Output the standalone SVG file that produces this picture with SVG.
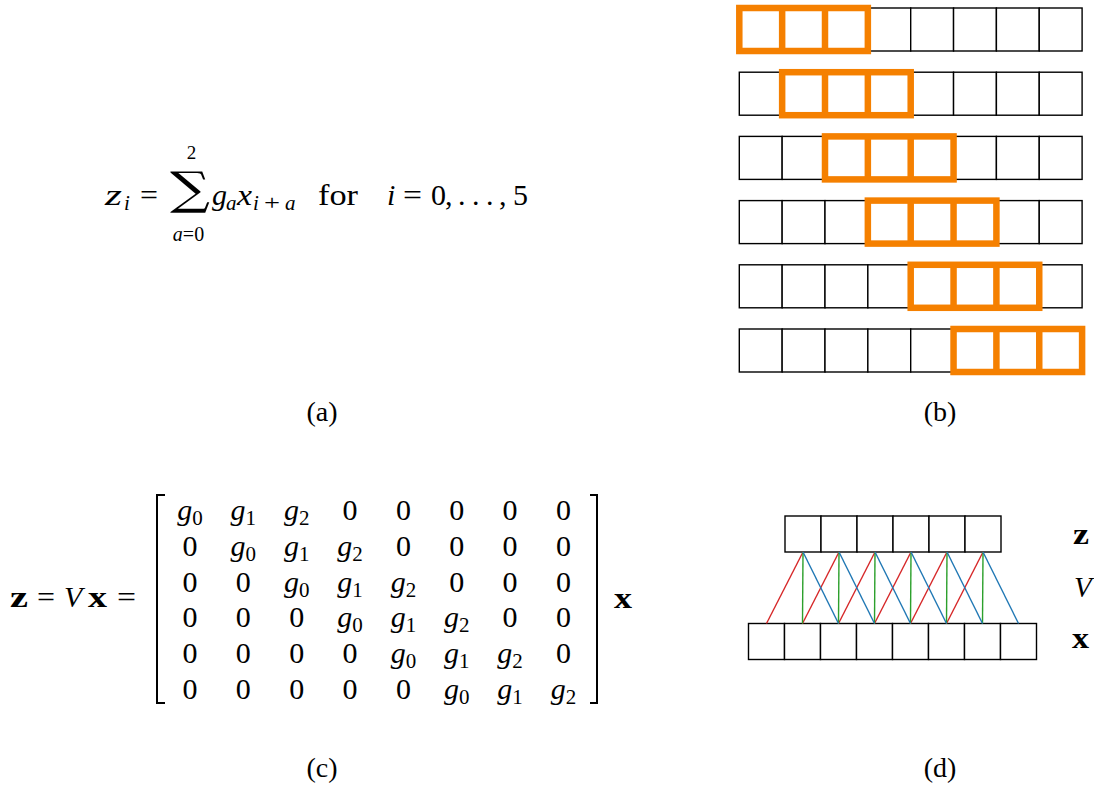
<svg xmlns="http://www.w3.org/2000/svg" width="1094" height="787" viewBox="0 0 1094 787">
<style>
text{font-family:"Liberation Serif","Times New Roman",serif;fill:#000}
.m{font-size:30px}
.it{font-style:italic}
.bf{font-weight:bold}
.sub{font-size:21px}
.ss{font-size:20px}
.lbl{font-size:28px;text-anchor:middle}
.e{font-size:30px;text-anchor:middle}
.cell{fill:#fff;stroke:#000;stroke-width:1.4}
.win{fill:none;stroke:#f58000;stroke-width:6.5}
.red{stroke:#d62728;stroke-width:1.4}
.grn{stroke:#2ca02c;stroke-width:1.4}
.blu{stroke:#1f77b4;stroke-width:1.4}
.br{fill:none;stroke:#000;stroke-width:2}
</style>
<rect width="1094" height="787" fill="#fff"/>

<!-- (a) formula -->
<g id="formula-a">
<text class="m it" x="105" y="205" textLength="17" lengthAdjust="spacingAndGlyphs">z</text>
<text class="sub it" x="124" y="210">i</text>
<text class="m" x="140" y="205" textLength="18" lengthAdjust="spacingAndGlyphs">=</text>
<text x="170" y="204" style="font-family:'DejaVu Serif',serif;font-size:45px" textLength="40" lengthAdjust="spacingAndGlyphs">∑</text>
<text x="191.5" y="159" text-anchor="middle" style="font-size:19px">2</text>
<text class="ss" x="188.5" y="241" text-anchor="middle"><tspan font-style="italic">a</tspan>=0</text>
<text class="m it" x="212" y="205">g</text>
<text class="sub it" x="226" y="210">a</text>
<text class="m it" x="237" y="205" textLength="15" lengthAdjust="spacingAndGlyphs">x</text>
<text class="sub it" x="253" y="210">i</text>
<text class="sub" x="264" y="210" textLength="16" lengthAdjust="spacingAndGlyphs">+</text>
<text class="sub it" x="285" y="210">a</text>
<text class="m" x="318" y="205" textLength="40" lengthAdjust="spacingAndGlyphs">for</text>
<text class="m it" x="387" y="205">i</text>
<text class="m" x="403" y="205" textLength="19" lengthAdjust="spacingAndGlyphs">=</text>
<text class="m" x="431" y="205">0</text>
<text class="m" x="445" y="205">,</text>
<text class="m" x="458" y="205">.</text>
<text class="m" x="472" y="205">.</text>
<text class="m" x="486" y="205">.</text>
<text class="m" x="499" y="205">,</text>
<text class="m" x="513" y="205">5</text>
</g>
<text id="label-a" class="lbl" x="322" y="421">(a)</text>

<!-- (b) sliding windows -->
<defs>
<g id="row8">
<rect class="cell" x="0" y="0" width="42.85" height="43"/>
<rect class="cell" x="42.85" y="0" width="42.85" height="43"/>
<rect class="cell" x="85.7" y="0" width="42.85" height="43"/>
<rect class="cell" x="128.55" y="0" width="42.85" height="43"/>
<rect class="cell" x="171.4" y="0" width="42.85" height="43"/>
<rect class="cell" x="214.25" y="0" width="42.85" height="43"/>
<rect class="cell" x="257.1" y="0" width="42.85" height="43"/>
<rect class="cell" x="299.95" y="0" width="42.85" height="43"/>
</g>
<g id="win3">
<rect class="win" x="0" y="0" width="128.55" height="43"/>
<line class="win" x1="42.85" y1="0" x2="42.85" y2="43"/>
<line class="win" x1="85.7" y1="0" x2="85.7" y2="43"/>
</g>
</defs>
<g id="row-b0" transform="translate(739.3,8)"><use href="#row8"/><use href="#win3" x="0"/></g>
<g id="row-b1" transform="translate(739.3,72.2)"><use href="#row8"/><use href="#win3" x="42.85"/></g>
<g id="row-b2" transform="translate(739.3,136.4)"><use href="#row8"/><use href="#win3" x="85.7"/></g>
<g id="row-b3" transform="translate(739.3,200.6)"><use href="#row8"/><use href="#win3" x="128.55"/></g>
<g id="row-b4" transform="translate(739.3,264.8)"><use href="#row8"/><use href="#win3" x="171.4"/></g>
<g id="row-b5" transform="translate(739.3,329)"><use href="#row8"/><use href="#win3" x="214.25"/></g>
<text id="label-b" class="lbl" x="940" y="421">(b)</text>

<!-- (c) matrix -->
<g id="lhs-c">
<text class="m bf" x="10" y="607" textLength="18" lengthAdjust="spacingAndGlyphs">z</text>
<text class="m" x="37" y="607" textLength="18" lengthAdjust="spacingAndGlyphs">=</text>
<text class="m it" x="64" y="607">V</text>
<text class="m bf" x="88" y="607" textLength="19" lengthAdjust="spacingAndGlyphs">x</text>
<text class="m" x="117" y="607" textLength="19" lengthAdjust="spacingAndGlyphs">=</text>
</g>
<g id="brackets-c">
<path class="br" d="M165,495 H157 V703 H165"/>
<path class="br" d="M590,495 H597 V703 H590"/>
</g>
<g id="matrix-c">
<text class="e it" x="190" y="520">g<tspan class="sub" dy="5" font-style="normal">0</tspan></text>
<text class="e it" x="243.3" y="520">g<tspan class="sub" dy="5" font-style="normal">1</tspan></text>
<text class="e it" x="296.7" y="520">g<tspan class="sub" dy="5" font-style="normal">2</tspan></text>
<text class="e" x="350" y="520">0</text>
<text class="e" x="403.4" y="520">0</text>
<text class="e" x="456.7" y="520">0</text>
<text class="e" x="510" y="520">0</text>
<text class="e" x="563.4" y="520">0</text>

<text class="e" x="190" y="556">0</text>
<text class="e it" x="243.3" y="556">g<tspan class="sub" dy="5" font-style="normal">0</tspan></text>
<text class="e it" x="296.7" y="556">g<tspan class="sub" dy="5" font-style="normal">1</tspan></text>
<text class="e it" x="350" y="556">g<tspan class="sub" dy="5" font-style="normal">2</tspan></text>
<text class="e" x="403.4" y="556">0</text>
<text class="e" x="456.7" y="556">0</text>
<text class="e" x="510" y="556">0</text>
<text class="e" x="563.4" y="556">0</text>

<text class="e" x="190" y="592">0</text>
<text class="e" x="243.3" y="592">0</text>
<text class="e it" x="296.7" y="592">g<tspan class="sub" dy="5" font-style="normal">0</tspan></text>
<text class="e it" x="350" y="592">g<tspan class="sub" dy="5" font-style="normal">1</tspan></text>
<text class="e it" x="403.4" y="592">g<tspan class="sub" dy="5" font-style="normal">2</tspan></text>
<text class="e" x="456.7" y="592">0</text>
<text class="e" x="510" y="592">0</text>
<text class="e" x="563.4" y="592">0</text>

<text class="e" x="190" y="627">0</text>
<text class="e" x="243.3" y="627">0</text>
<text class="e" x="296.7" y="627">0</text>
<text class="e it" x="350" y="627">g<tspan class="sub" dy="5" font-style="normal">0</tspan></text>
<text class="e it" x="403.4" y="627">g<tspan class="sub" dy="5" font-style="normal">1</tspan></text>
<text class="e it" x="456.7" y="627">g<tspan class="sub" dy="5" font-style="normal">2</tspan></text>
<text class="e" x="510" y="627">0</text>
<text class="e" x="563.4" y="627">0</text>

<text class="e" x="190" y="663">0</text>
<text class="e" x="243.3" y="663">0</text>
<text class="e" x="296.7" y="663">0</text>
<text class="e" x="350" y="663">0</text>
<text class="e it" x="403.4" y="663">g<tspan class="sub" dy="5" font-style="normal">0</tspan></text>
<text class="e it" x="456.7" y="663">g<tspan class="sub" dy="5" font-style="normal">1</tspan></text>
<text class="e it" x="510" y="663">g<tspan class="sub" dy="5" font-style="normal">2</tspan></text>
<text class="e" x="563.4" y="663">0</text>

<text class="e" x="190" y="699">0</text>
<text class="e" x="243.3" y="699">0</text>
<text class="e" x="296.7" y="699">0</text>
<text class="e" x="350" y="699">0</text>
<text class="e" x="403.4" y="699">0</text>
<text class="e it" x="456.7" y="699">g<tspan class="sub" dy="5" font-style="normal">0</tspan></text>
<text class="e it" x="510" y="699">g<tspan class="sub" dy="5" font-style="normal">1</tspan></text>
<text class="e it" x="563.4" y="699">g<tspan class="sub" dy="5" font-style="normal">2</tspan></text>
</g>
<text id="rhs-x-c" class="m bf" x="614" y="608" textLength="18" lengthAdjust="spacingAndGlyphs">x</text>
<text id="label-c" class="lbl" x="322" y="777">(c)</text>

<!-- (d) network -->
<g id="z-row-d">
<rect class="cell" x="785" y="516" width="36" height="36"/>
<rect class="cell" x="821" y="516" width="36" height="36"/>
<rect class="cell" x="857" y="516" width="36" height="36"/>
<rect class="cell" x="893" y="516" width="36" height="36"/>
<rect class="cell" x="929" y="516" width="36" height="36"/>
<rect class="cell" x="965" y="516" width="36" height="36"/>
</g>
<g id="x-row-d">
<rect class="cell" x="748.5" y="623.5" width="36" height="36"/>
<rect class="cell" x="784.5" y="623.5" width="36" height="36"/>
<rect class="cell" x="820.5" y="623.5" width="36" height="36"/>
<rect class="cell" x="856.5" y="623.5" width="36" height="36"/>
<rect class="cell" x="892.5" y="623.5" width="36" height="36"/>
<rect class="cell" x="928.5" y="623.5" width="36" height="36"/>
<rect class="cell" x="964.5" y="623.5" width="36" height="36"/>
<rect class="cell" x="1000.5" y="623.5" width="36" height="36"/>
</g>
<g id="connectors-d">
<line class="red" x1="803" y1="552" x2="766.5" y2="623.5"/>
<line class="red" x1="839" y1="552" x2="802.5" y2="623.5"/>
<line class="red" x1="875" y1="552" x2="838.5" y2="623.5"/>
<line class="red" x1="911" y1="552" x2="874.5" y2="623.5"/>
<line class="red" x1="947" y1="552" x2="910.5" y2="623.5"/>
<line class="red" x1="983" y1="552" x2="946.5" y2="623.5"/>
<line class="grn" x1="803" y1="552" x2="802.5" y2="623.5"/>
<line class="grn" x1="839" y1="552" x2="838.5" y2="623.5"/>
<line class="grn" x1="875" y1="552" x2="874.5" y2="623.5"/>
<line class="grn" x1="911" y1="552" x2="910.5" y2="623.5"/>
<line class="grn" x1="947" y1="552" x2="946.5" y2="623.5"/>
<line class="grn" x1="983" y1="552" x2="982.5" y2="623.5"/>
<line class="blu" x1="803" y1="552" x2="838.5" y2="623.5"/>
<line class="blu" x1="839" y1="552" x2="874.5" y2="623.5"/>
<line class="blu" x1="875" y1="552" x2="910.5" y2="623.5"/>
<line class="blu" x1="911" y1="552" x2="946.5" y2="623.5"/>
<line class="blu" x1="947" y1="552" x2="982.5" y2="623.5"/>
<line class="blu" x1="983" y1="552" x2="1018.5" y2="623.5"/>
</g>
<g id="labels-d">
<text class="bf" x="1073" y="544" style="font-size:29px" textLength="16" lengthAdjust="spacingAndGlyphs">z</text>
<text class="it" x="1074" y="597" style="font-size:29px">V</text>
<text class="bf" x="1072" y="648" style="font-size:29px" textLength="17" lengthAdjust="spacingAndGlyphs">x</text>
</g>
<text id="label-d" class="lbl" x="940" y="777">(d)</text>
</svg>
